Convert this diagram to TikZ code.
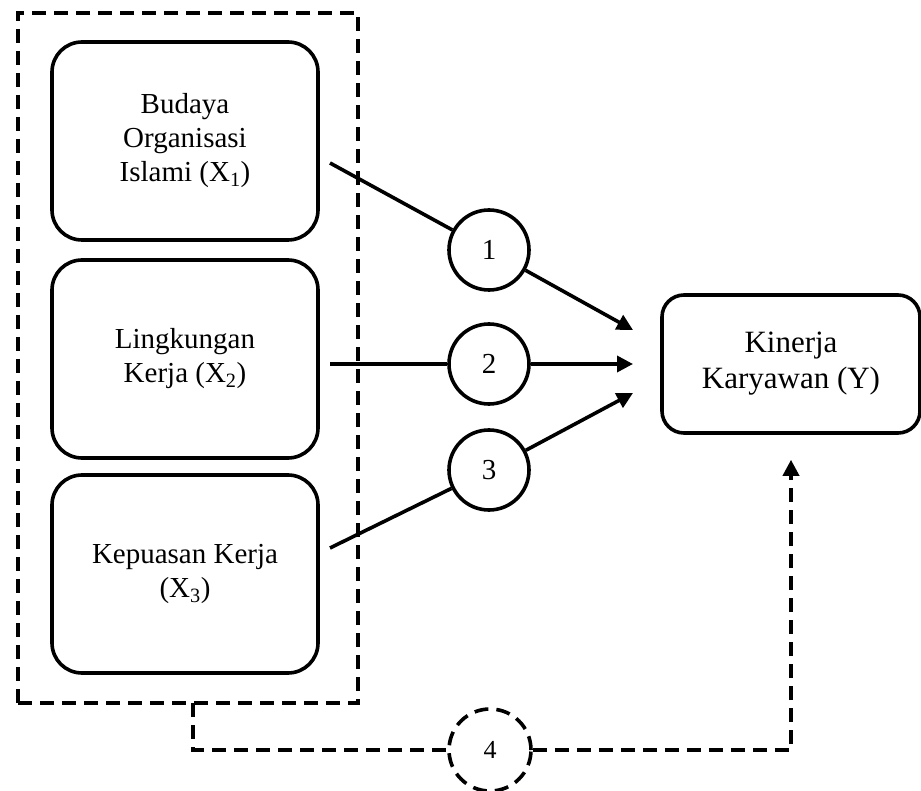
\documentclass[tikz,border=0pt]{standalone}
\usepackage{fontspec}
\setmainfont{Liberation Serif}
\usetikzlibrary{arrows.meta}

\begin{document}
\begin{tikzpicture}[x=1pt,y=-1pt,line width=3.6pt,
    	 >={Triangle[length=16pt,width=16pt]},
    	 dsh/.style={dash pattern=on 14pt off 8pt}]

    	 % style of the boxes and circles
    	 \tikzstyle{var}=[draw,rounded corners=30pt,minimum width=266pt,minimum height=198pt,
    	   align=center,font=\fontsize{29}{34}\selectfont]
    	 \tikzstyle{hyp}=[draw,circle,minimum size=80pt,inner sep=0pt,font=\fontsize{29}{34}\selectfont]

    	 \useasboundingbox (0,0) rectangle (921,791);

			\node [draw,dsh,minimum width=340pt,minimum height=690pt] (grp) at (188,358) {};
			\node [var] (x1) at (185,141) {Budaya\\Organisasi\\Islami (X\textsubscript{1})};
			\node [var] (x2) at (185,359) {Lingkungan\\Kerja (X\textsubscript{2})};
			\node [var] (x3) at (185,574) {Kepuasan Kerja\\(X\textsubscript{3})};
			\node [var,rounded corners=22pt,minimum width=258pt,minimum height=138pt,
			  font=\fontsize{31}{36}\selectfont] (ky) at (791,364) {Kinerja\\Karyawan (Y)};

			\node [hyp] (h1) at (489,250) {1};
			\node [hyp] (h2) at (489,364) {2};
			\node [hyp] (h3) at (489,470) {3};
			\node [hyp,dsh,minimum size=82pt,font=\fontsize{26}{30}\selectfont] (h4) at (490,750) {4};

			\coordinate (s1) at (330,163);
			\coordinate (s2) at (330,364);
			\coordinate (s3) at (330,548);
			\coordinate (t1) at (633,330);
			\coordinate (t2) at (633,364);
			\coordinate (t3) at (633,393);
			\coordinate (s4) at (193,703);

			\draw (s1) -- (h1);
			\draw [->] (h1) -- (t1);
			\draw (s2) -- (h2);
			\draw [->] (h2) -- (t2);
			\draw (s3) -- (h3);
			\draw [->] (h3) -- (t3);

			\draw [dsh] (s4) |- (h4.west);
			\draw [dsh,->,shorten >=25pt] (h4.east) -| (ky.south);

		\end{tikzpicture}
\end{document}
